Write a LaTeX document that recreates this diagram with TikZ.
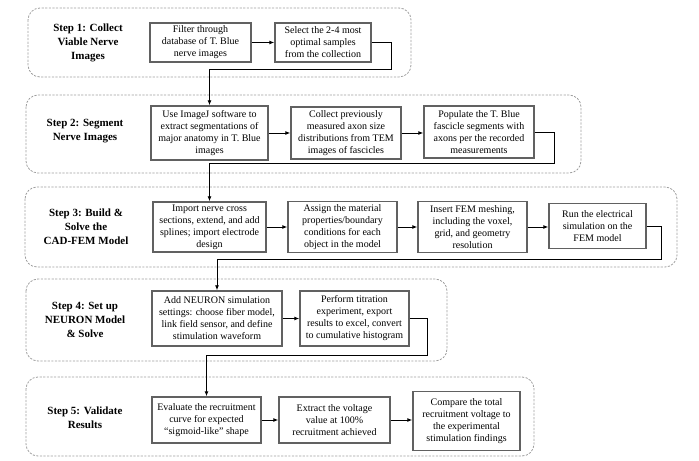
\documentclass[tikz,border=0pt]{standalone}
\usepackage{fontspec}
\setmainfont{Liberation Serif}
\usetikzlibrary{arrows.meta}
\begin{document}
\begin{tikzpicture}[x=1bp,y=-1bp,
  grp/.style={draw=black!38, line width=0.8bp, dash pattern=on 2.2bp off 1.4bp, rounded corners=12bp},
  stepbox/.style={draw=black!62, line width=1.4bp, fill=white, align=center, inner sep=1bp,
     font=\fontsize{10bp}{12bp}\selectfont},
  lbl/.style={align=center, font=\fontsize{11bp}{14bp}\selectfont\bfseries},
  conn/.style={draw=black, line width=0.9bp, -{Latex[length=5bp,width=4bp]}}]
\useasboundingbox (0,0) rectangle (699,461);

% groups
\draw[grp] (28,8) rectangle (411,77);
\draw[grp] (26,95) rectangle (581,173);
\draw[grp] (25,187) rectangle (677,267);
\draw[grp] (26,279) rectangle (447,361);
\draw[grp] (26,377) rectangle (534,456);

% labels
\node[lbl] (s1) at (88,43) {Step 1: Collect\\Viable Nerve\\Images};
\node[lbl] (s2) at (85,131) {Step 2: Segment\\Nerve Images};
\node[lbl] (s3) at (86,227) {Step 3: Build \&\\Solve the\\CAD-FEM Model};
\node[lbl] (s4) at (85,320) {Step 4: Set up\\NEURON Model\\\& Solve};
\node[lbl] (s5) at (85,418) {Step 5: Validate\\Results};

% boxes row 1
\node[stepbox, minimum width=101bp, minimum height=39bp] (b1) at (200.5,42.5) {Filter through\\database of T. Blue\\nerve images};
\node[stepbox, minimum width=96bp, minimum height=39bp] (b2) at (323,42.5) {Select the 2-4 most\\optimal samples\\from the collection};
% row 2
\node[stepbox, minimum width=117bp, minimum height=54bp] (a) at (209.5,133) {Use ImageJ software to\\extract segmentations of\\major anatomy in T. Blue\\images};
\node[stepbox, minimum width=110bp, minimum height=52bp] (b) at (346,133) {Collect previously\\measured axon size\\distributions from TEM\\images of fascicles};
\node[stepbox, minimum width=110bp, minimum height=52bp] (c) at (479,132) {Populate the T. Blue\\fascicle segments with\\axons per the recorded\\measurements};
% row 3
\node[stepbox, minimum width=113bp, minimum height=50bp] (d) at (209.5,227) {Import nerve cross\\sections, extend, and add\\splines; import electrode\\design};
\node[stepbox, minimum width=109bp, minimum height=51bp] (e) at (342.5,227) {Assign the material\\properties/boundary\\conditions for each\\object in the model};
\node[stepbox, minimum width=109bp, minimum height=51bp] (f) at (472.5,227) {Insert FEM meshing,\\including the voxel,\\grid, and geometry\\resolution};
\node[stepbox, minimum width=97bp, minimum height=45bp] (g) at (597.5,226) {Run the electrical\\simulation on the\\FEM model};
% row 4
\node[stepbox, minimum width=130bp, minimum height=55bp] (h) at (217,318.5) {Add NEURON simulation\\settings: choose fiber model,\\link field sensor, and define\\stimulation waveform};
\node[stepbox, minimum width=109bp, minimum height=55bp] (i) at (354.5,318.5) {Perform titration\\experiment, export\\results to excel, convert\\to cumulative histogram};
% row 5
\node[stepbox, minimum width=109bp, minimum height=46bp] (j) at (206.5,420) {Evaluate the recruitment\\curve for expected\\“sigmoid-like” shape};
\node[stepbox, minimum width=111bp, minimum height=46bp] (k) at (334.5,420) {Extract the voltage\\value at 100\%\\recruitment achieved};
\node[stepbox, minimum width=107bp, minimum height=59bp] (l) at (466.5,421) {Compare the total\\recruitment voltage to\\the experimental\\stimulation findings};

% bend points
\coordinate (k1) at (391,69);
\coordinate (k2) at (554,163);
\coordinate (k3) at (661,259);
\coordinate (k4) at (427,355);

% connectors
\draw[conn] (b1.east) -- (b2.west);
\draw[conn] (b2.east) -| (k1) -| (a.north);
\draw[conn] (a.east) -- (b.west);
\draw[conn] (b.east) -- (c.west |- b.east);
\draw[conn] (c.east) -| (k2) -| (d.north);
\draw[conn] (d.east) -- (e.west);
\draw[conn] (e.east) -- (f.west);
\draw[conn] (f.east) -- (g.west |- f.east);
\draw[conn] (g.east) -| (k3) -| (h.north);
\draw[conn] (h.east) -- (i.west);
\draw[conn] (i.east) -| (k4) -| (j.north);
\draw[conn] (j.east) -- (k.west);
\draw[conn] (k.east) -- (l.west |- k.east);
\end{tikzpicture}
\end{document}
